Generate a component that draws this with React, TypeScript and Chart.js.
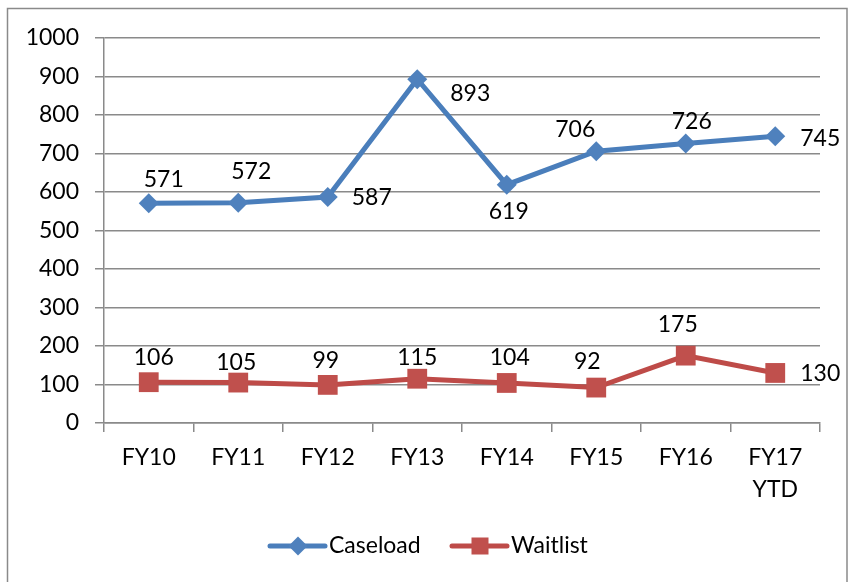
import React, { useEffect, useRef } from 'react';
import { Chart, registerables } from 'chart.js';

Chart.register(...registerables);

const categories: (string | string[])[] = ['FY10', 'FY11', 'FY12', 'FY13', 'FY14', 'FY15', 'FY16', ['FY17', 'YTD']];
const caseload = [571, 572, 587, 893, 619, 706, 726, 745];
const waitlist = [106, 105, 99, 115, 104, 92, 175, 130];
const seriesNames = ['Caseload', 'Waitlist'];
const yMin = 0;
const yMax = 1000;
const yStep = 100;

// label placement offsets (pixels, relative to each point) – style, not data
const caseloadLabelOffsets: [number, number][] = [
  [15, -24], [13, -31], [44, 1], [53, 14], [2, 27], [-21, -22], [6, -22], [45, 2],
];
const waitlistLabelOffsets: [number, number][] = [
  [5, -25], [-2, -20], [-2, -24], [0, -21], [3, -25], [-9, -26], [-8, -31], [45, 1],
];

const FONT = 'Lato';
const FSIZE = 23;
const BLUE_LINE = '#4A7EBB';
const BLUE_MARK = '#4F81BD';
const RED_LINE = '#BE4B48';
const RED_MARK = '#C0504D';
const GRID = '#8a8a8a';

const labelPlugin = {
  id: 'pointLabels',
  afterDatasetsDraw(chart: any) {
    const ctx = chart.ctx;
    ctx.save();
    ctx.font = `${FSIZE}px ${FONT}`;
    ctx.fillStyle = '#000';
    ctx.textAlign = 'center';
    ctx.textBaseline = 'middle';
    const offsets = [caseloadLabelOffsets, waitlistLabelOffsets];
    chart.data.datasets.forEach((ds: any, di: number) => {
      const meta = chart.getDatasetMeta(di);
      meta.data.forEach((pt: any, i: number) => {
        const [dx, dy] = offsets[di][i];
        ctx.fillText(String(ds.data[i]), pt.x + dx, pt.y + dy);
      });
    });
    ctx.restore();
  },
  afterDraw(chart: any) {
    const ctx = chart.ctx;
    ctx.save();
    // outer frame
    ctx.strokeStyle = GRID;
    ctx.lineWidth = 1.5;
    ctx.strokeRect(7.5, 8.5, 839.5, 700);
    // legend
    const ly = 546;
    const drawEntry = (x0: number, color: string, mark: string, shape: string, text: string) => {
      ctx.strokeStyle = color;
      ctx.lineWidth = 5;
      ctx.lineCap = 'round';
      ctx.beginPath();
      ctx.moveTo(x0, ly);
      ctx.lineTo(x0 + 55, ly);
      ctx.stroke();
      ctx.fillStyle = mark;
      const cx = x0 + 28;
      if (shape === 'diamond') {
        ctx.beginPath();
        ctx.moveTo(cx, ly - 9.5);
        ctx.lineTo(cx + 9.5, ly);
        ctx.lineTo(cx, ly + 9.5);
        ctx.lineTo(cx - 9.5, ly);
        ctx.closePath();
        ctx.fill();
      } else {
        ctx.fillRect(cx - 8.5, ly - 8.5, 17, 17);
      }
      ctx.fillStyle = '#000';
      ctx.font = `${FSIZE}px ${FONT}`;
      ctx.textAlign = 'left';
      ctx.textBaseline = 'middle';
      ctx.fillText(text, x0 + 59, ly);
    };
    drawEntry(270, BLUE_LINE, BLUE_MARK, 'diamond', seriesNames[0]);
    drawEntry(452, RED_LINE, RED_MARK, 'square', seriesNames[1]);
    ctx.restore();
  },
};

export default function App() {
  const ref = useRef<HTMLCanvasElement>(null);
  useEffect(() => {
    if (!ref.current) return;
    const font = { family: FONT, size: FSIZE, lineHeight: 1.4 };
    const chart = new Chart(ref.current, {
      type: 'line',
      data: {
        labels: categories as any,
        datasets: [
          {
            label: seriesNames[0],
            data: caseload,
            borderColor: BLUE_LINE,
            backgroundColor: BLUE_MARK,
            borderWidth: 5,
            pointStyle: 'rectRot',
            pointRadius: 10,
            pointBorderWidth: 0,
            pointBackgroundColor: BLUE_MARK,
            tension: 0,
          },
          {
            label: seriesNames[1],
            data: waitlist,
            borderColor: RED_LINE,
            backgroundColor: RED_MARK,
            borderWidth: 5,
            pointStyle: 'rect',
            pointRadius: 14,
            pointBorderWidth: 0,
            pointBackgroundColor: RED_MARK,
            tension: 0,
          },
        ],
      },
      options: {
        responsive: false,
        animation: false,
        events: [],
        layout: { padding: { left: 0, top: 38, right: 29, bottom: 59 } },
        plugins: {
          legend: { display: false },
          tooltip: { enabled: false },
        },
        scales: {
          x: {
            offset: true,
            grid: {
              offset: true,
              drawOnChartArea: false,
              drawTicks: true,
              tickLength: 9,
              color: GRID,
              lineWidth: 1.5,
            },
            border: { color: GRID, width: 1.5 },
            ticks: { font, color: '#000', padding: 9, maxRotation: 0, autoSkip: false },
            afterFit: (s: any) => {
              s.height = 100;
            },
          },
          y: {
            min: yMin,
            max: yMax,
            ticks: {
              stepSize: yStep,
              font: { family: FONT, size: FSIZE },
              color: '#000',
              padding: 16,
              callback: (v: any) => String(v),
            },
            grid: { color: GRID, lineWidth: 1.5, tickLength: 9 },
            border: { color: GRID, width: 1.5 },
            afterFit: (s: any) => {
              s.width = 104;
            },
          },
        },
      },
      plugins: [labelPlugin],
    });
    return () => chart.destroy();
  }, []);
  return (
    <div style={{ position: 'absolute', left: 0, top: 0, width: 849, height: 582, background: '#fff' }}>
      <canvas ref={ref} width={849} height={582} style={{ display: 'block' }} />
    </div>
  );
}
